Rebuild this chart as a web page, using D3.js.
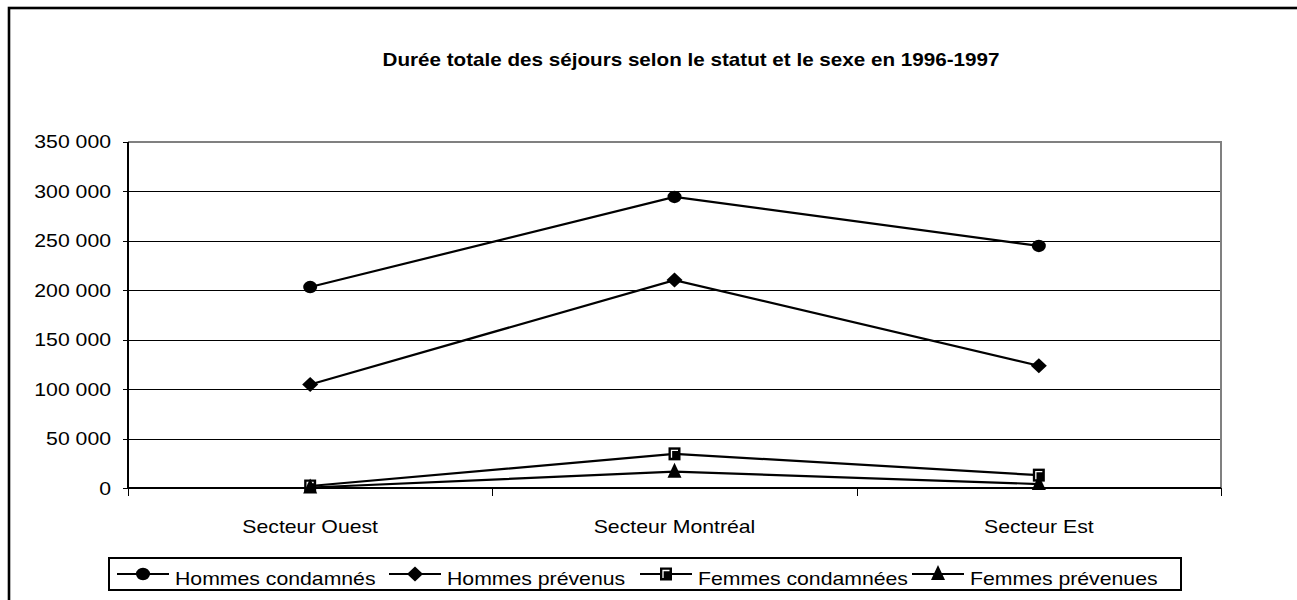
<!DOCTYPE html>
<html>
<head>
<meta charset="utf-8">
<script src="https://cdn.jsdelivr.net/npm/d3@7"></script>
<style>
html,body{margin:0;padding:0;background:#fff;}
svg{display:block;}
text{font-family:"Liberation Sans",Arial,sans-serif;fill:#000;}
</style>
</head>
<body>
<svg id="chart" width="1297" height="600"></svg>
<script>
// ---- data ----
const title = "Durée totale des séjours selon le statut et le sexe en 1996-1997";
const categories = ["Secteur Ouest", "Secteur Montréal", "Secteur Est"];
const seriesNames = ["Hommes condamnés", "Hommes prévenus", "Femmes condamnées", "Femmes prévenues"];
const hommesCondamnes = [203000, 294000, 244500];
const hommesPrevenus = [104500, 210000, 123500];
const femmesCondamnees = [2000, 34500, 13000];
const femmesPrevenues = [500, 16500, 4000];
const yTickValues = [0, 50000, 100000, 150000, 200000, 250000, 300000, 350000];
const markerTypes = ["circle", "diamond", "square", "triangle"];

const seriesValues = [hommesCondamnes, hommesPrevenus, femmesCondamnees, femmesPrevenues];

// ---- layout ----
const SX = 1.18;        // horizontal stretch of text as in the reference
const FS = 18;
const plot = {left: 128, right: 1221, top: 141.5, bottom: 488};

const svg = d3.select("#chart");
const fr = d3.formatLocale({decimal: ",", thousands: " ", grouping: [3], currency: ["", ""]});
const fmt = fr.format(",");

const x = d3.scaleBand().domain(categories).range([plot.left, plot.right]).padding(0);
const y = d3.scaleLinear().domain([0, 350000]).range([plot.bottom, plot.top]);
const cx = c => x(c) + x.bandwidth() / 2;
const crisp = v => Math.round(v) + 0.5;

function label(parent, px, py, str, anchor, size, weight) {
  const g = parent.append("g").attr("transform", `translate(${px},${py}) scale(${SX},1)`);
  g.append("text").attr("text-anchor", anchor).attr("font-size", size)
    .attr("font-weight", weight || "normal").text(str);
  return g;
}

// outer frame
svg.append("rect").attr("x", 9).attr("y", 8).attr("width", 1400).attr("height", 700)
  .attr("fill", "#fff").attr("stroke", "#000").attr("stroke-width", 2.6);

// title
label(svg, 691, 66, title, "middle", 17.5, "bold");

// gridlines
svg.append("g").selectAll("line").data(yTickValues.filter(v => v > 0 && v < 350000)).join("line")
  .attr("x1", plot.left).attr("x2", plot.right)
  .attr("y1", d => crisp(y(d))).attr("y2", d => crisp(y(d)))
  .attr("stroke", "#000").attr("stroke-width", 1).attr("shape-rendering", "crispEdges");

// plot border top/right (gray)
svg.append("path")
  .attr("d", `M${plot.left},${Math.round(y(350000))}H${plot.right}V${plot.bottom}`)
  .attr("fill", "none").attr("stroke", "#808080").attr("stroke-width", 2).attr("shape-rendering", "crispEdges");

// y axis
const yAxis = svg.append("g").attr("transform", `translate(${plot.left},0)`)
  .call(d3.axisLeft(y).tickValues(yTickValues).tickSize(5).tickFormat(() => ""));
yAxis.select(".domain").attr("stroke", "#000").attr("stroke-width", 2)
  .attr("d", `M0,${Math.round(plot.top)}V${plot.bottom}`).attr("shape-rendering", "crispEdges");
yAxis.selectAll(".tick").attr("transform", d => `translate(0,${crisp(y(d))})`);
yAxis.selectAll(".tick line").attr("stroke", "#000").attr("stroke-width", 1.5).attr("shape-rendering", "crispEdges");
const yLab = svg.append("g");
yTickValues.forEach(v => label(yLab, 111, y(v) + 6.5, fmt(v), "end", FS));

// x axis
const xBounds = categories.map(c => x(c)).concat([plot.right]);
svg.append("line").attr("x1", plot.left - 1).attr("x2", plot.right)
  .attr("y1", plot.bottom).attr("y2", plot.bottom).attr("stroke", "#000").attr("stroke-width", 2)
  .attr("shape-rendering", "crispEdges");
svg.append("g").selectAll("line").data(xBounds).join("line")
  .attr("x1", d => crisp(d)).attr("x2", d => crisp(d)).attr("y1", plot.bottom).attr("y2", plot.bottom + 8)
  .attr("stroke", "#000").attr("stroke-width", 1.5).attr("shape-rendering", "crispEdges");
const xLab = svg.append("g");
categories.forEach(c => label(xLab, cx(c), 533, c, "middle", FS));

// markers
function drawMarker(g, type, px, py) {
  if (type === "circle") {
    g.append("ellipse").attr("cx", px).attr("cy", py).attr("rx", 7).attr("ry", 6.2).attr("fill", "#000");
  } else if (type === "diamond") {
    g.append("path").attr("d", `M${px},${py - 7.5}L${px + 8},${py}L${px},${py + 7.5}L${px - 8},${py}Z`).attr("fill", "#000");
  } else if (type === "square") {
    g.append("rect").attr("x", px - 6).attr("y", py - 6.5).attr("width", 12).attr("height", 13).attr("fill", "#000");
    g.append("path").attr("d", `M${px - 3},${py + 4}V${py - 3.5}H${px + 3.5}`)
      .attr("fill", "none").attr("stroke", "#fff").attr("stroke-width", 1.3);
  } else {
    g.append("path").attr("d", `M${px},${py - 9}L${px + 7},${py + 6}L${px - 7},${py + 6}Z`).attr("fill", "#000");
  }
}

const line = d3.line().x((d, i) => cx(categories[i])).y(d => y(d));
const sg = svg.append("g");
seriesValues.forEach((vals, si) => {
  sg.append("path").attr("d", line(vals)).attr("fill", "none")
    .attr("stroke", "#000").attr("stroke-width", 2.2);
});
seriesValues.forEach((vals, si) => {
  vals.forEach((v, i) => drawMarker(sg, markerTypes[si], cx(categories[i]), y(v)));
});

// legend
const lg = svg.append("g");
lg.append("rect").attr("x", 109).attr("y", 558).attr("width", 1072).attr("height", 32)
  .attr("fill", "#fff").attr("stroke", "#000").attr("stroke-width", 2);
const legendStarts = [117, 389, 640, 912];
seriesNames.forEach((name, i) => {
  const x0 = legendStarts[i];
  lg.append("line").attr("x1", x0).attr("x2", x0 + 52).attr("y1", 574).attr("y2", 574)
    .attr("stroke", "#000").attr("stroke-width", 2.2);
  drawMarker(lg, markerTypes[i], x0 + 26, 574);
  label(lg, x0 + 58, 585, name, "start", FS);
});
</script>
</body>
</html>
